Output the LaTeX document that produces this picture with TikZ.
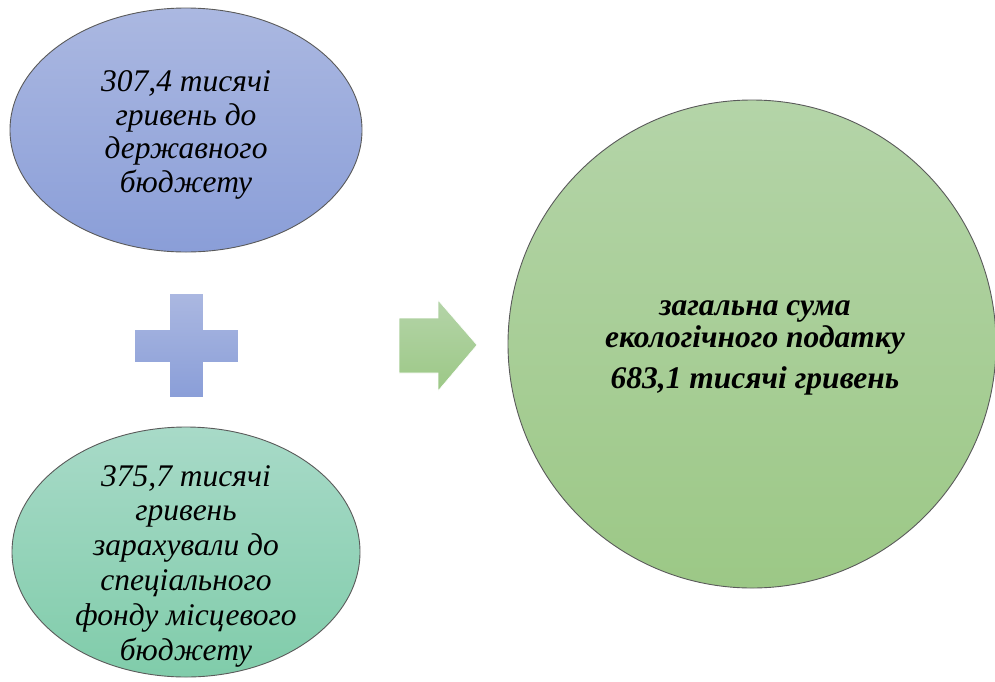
\documentclass[tikz,border=0pt]{standalone}
\usepackage{fontspec}
\setmainfont{Liberation Serif}
\usetikzlibrary{shapes.geometric}
\definecolor{blueA}{RGB}{171,184,225}
\definecolor{blueB}{RGB}{138,158,216}
\definecolor{tealA}{RGB}{168,218,200}
\definecolor{tealB}{RGB}{128,204,170}
\definecolor{greenA}{RGB}{180,212,168}
\definecolor{greenB}{RGB}{156,200,134}
\definecolor{edge}{RGB}{90,90,90}
\tikzset{
  bubble/.style={ellipse, draw=edge, line width=0.9pt, inner sep=0pt},
  smalltext/.style={align=center, font=\fontsize{31.5}{33.5}\selectfont\itshape, inner sep=0pt},
  bigtext/.style={align=center, font=\fontsize{31.5}{32}\selectfont\bfseries\itshape, inner sep=0pt},
  shapefill/.style={draw=white, line width=0.6pt}
}
\begin{document}
\begin{tikzpicture}[x=1pt,y=-1pt]
\useasboundingbox (0,0) rectangle (995,681);
% top ellipse
\node[bubble, minimum width=352pt, minimum height=244pt, top color=blueA, bottom color=blueB] (top) at (186,130) {};
\node[smalltext] (toptext) at (186,135) {307,4 тисячі\\гривень до\\державного\\бюджету};
% bottom ellipse
\node[bubble, minimum width=348pt, minimum height=250pt, top color=tealA, bottom color=tealB] (bot) at (186,552) {};
\node[smalltext, font=\fontsize{31.5}{34.8}\selectfont\itshape] (bottext) at (186,566) {375,7 тисячі\\гривень\\зарахували до\\спеціального\\фонду місцевого\\бюджету};
% big circle
\node[bubble, minimum width=488pt, minimum height=488pt, top color=greenA, bottom color=greenB] (sum) at (752,344) {};
\node[bigtext] (sumtext) at (755,348) {загальна сума\\екологічного податку\\[9pt]683,1 тисячі гривень};
% plus sign
\path[shapefill, top color=blueA, bottom color=blueB]
  (169,293) -- (203,293) -- (203,329) -- (238,329) -- (238,362) -- (203,362)
  -- (203,397) -- (169,397) -- (169,362) -- (134,362) -- (134,329) -- (169,329) -- cycle;
% arrow
\path[shapefill, top color=greenA, bottom color=greenB]
  (399,318) -- (438,318) -- (438,300) -- (477,345) -- (438,391) -- (438,373) -- (399,373) -- cycle;
\end{tikzpicture}
\end{document}
